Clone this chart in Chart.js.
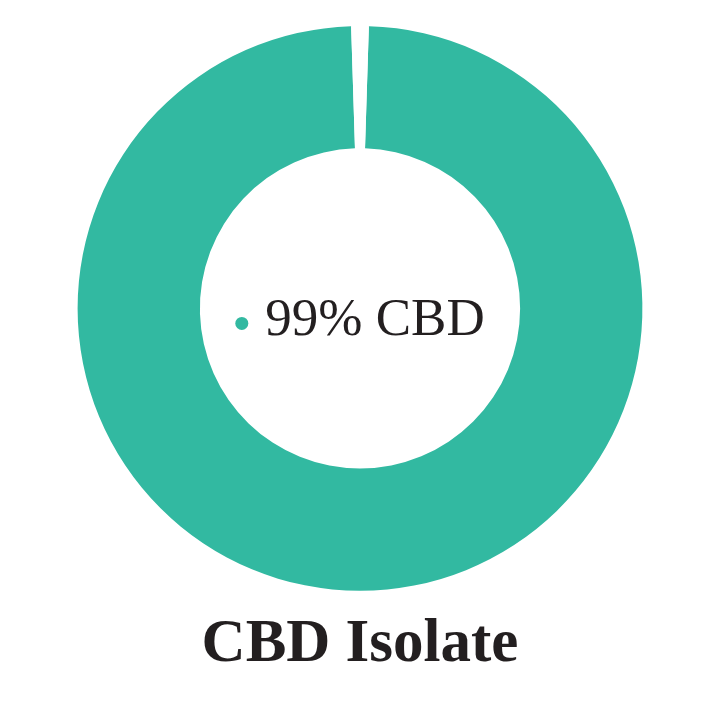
<!DOCTYPE html>
<html>
<head>
<meta charset="utf-8">
<script src="https://cdn.jsdelivr.net/npm/chart.js@4/dist/chart.umd.min.js"></script>
<style>
  html, body { margin: 0; padding: 0; background: #ffffff; }
  #wrap { width: 720px; height: 720px; }
</style>
</head>
<body>
<div id="wrap"><canvas id="c" width="720" height="720"></canvas></div>
<script>
const labels = ["CBD", ""];
const values = [99, 1];
const colors = ["#32b9a1", "#ffffff"];
const chartTitle = "CBD Isolate";

const centerLabel = {
  id: "centerLabel",
  afterDraw(chart) {
    const ctx = chart.ctx;
    const meta = chart.getDatasetMeta(0);
    const arc = meta.data[0];
    const cx = arc.x, cy = arc.y;
    const text = values[0] + "% " + labels[0];
    ctx.save();
    ctx.font = "53px 'Liberation Serif', serif";
    const w = ctx.measureText(text).width;
    const dotR = 6.5, gap = 17;
    const total = dotR * 2 + gap + w;
    const x0 = cx - total / 2;
    ctx.fillStyle = colors[0];
    ctx.beginPath();
    ctx.arc(x0 + dotR, cy + 15, dotR, 0, Math.PI * 2);
    ctx.fill();
    ctx.fillStyle = "#231f20";
    ctx.textAlign = "left";
    ctx.textBaseline = "alphabetic";
    ctx.fillText(text, x0 + dotR * 2 + gap, cy + 27);
    ctx.restore();
  }
};

new Chart(document.getElementById("c"), {
  type: "doughnut",
  data: {
    labels: labels,
    datasets: [{
      data: values,
      backgroundColor: colors,
      borderWidth: 0,
      hoverOffset: 0
    }]
  },
  options: {
    responsive: false,
    animation: false,
    events: [],
    cutout: "56.7%",
    rotation: 1.8,
    layout: { padding: { top: 26, bottom: 0, left: 0, right: 0 } },
    plugins: {
      legend: { display: false },
      tooltip: { enabled: false },
      title: {
        display: true,
        position: "bottom",
        text: chartTitle,
        color: "#231f20",
        font: { family: "'Liberation Serif', serif", size: 61, weight: "bold", lineHeight: 1.2 },
        padding: { top: 18, bottom: 38 }
      }
    }
  },
  plugins: [centerLabel]
});
</script>
</body>
</html>
